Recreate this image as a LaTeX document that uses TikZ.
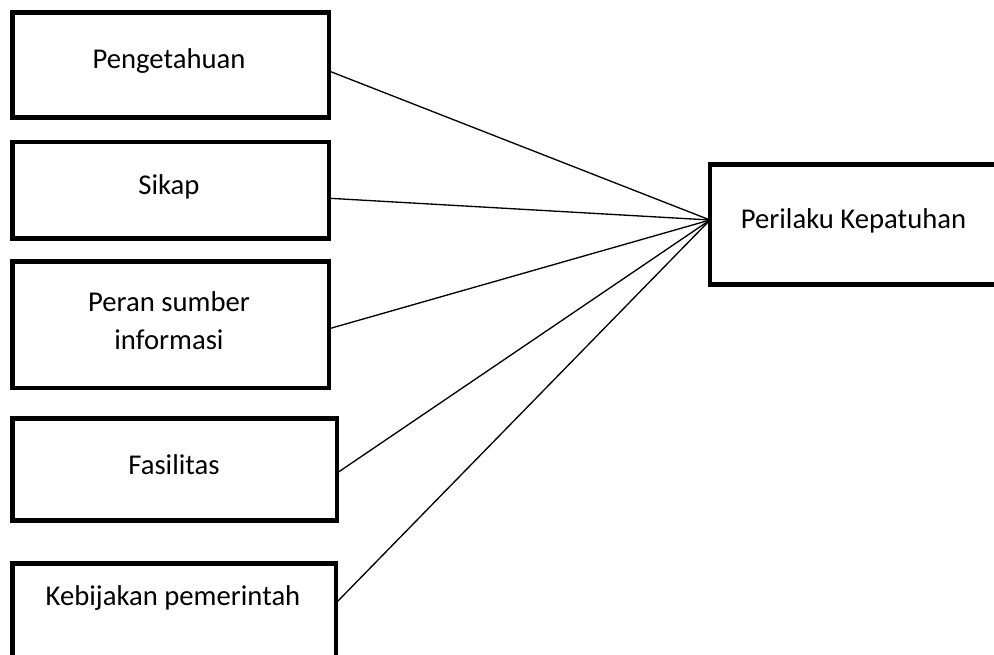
\documentclass[tikz,border=0pt]{standalone}
\usepackage{fontspec}
\setmainfont{Carlito}
\usetikzlibrary{calc}
\begin{document}
\begin{tikzpicture}[x=0.75pt,y=-0.75pt,
  box/.style={draw=black, line width=3.4pt, rectangle, inner sep=0pt, outer sep=0pt},
  lbl/.style={anchor=base, inner sep=0pt, font=\fontsize{21.5}{28.5}\selectfont, align=center},
  link/.style={draw=black, line width=1pt}]
\useasboundingbox (0,0) rectangle (994,654);
\clip (0,0) rectangle (994,654);
\fill[white] (0,0) rectangle (994,654);
% boxes (line-centre geometry)
\node[box, minimum width=316.5*0.75pt, minimum height=105*0.75pt] (b1) at (170.75,65) {};
\node[box, minimum width=316.5*0.75pt, minimum height=96.5*0.75pt] (b2) at (170.75,190.25) {};
\node[box, minimum width=316.5*0.75pt, minimum height=126.5*0.75pt] (b3) at (170.75,324.75) {};
\node[box, minimum width=324.5*0.75pt, minimum height=102*0.75pt] (b4) at (174.75,469.5) {};
\node[box, minimum width=323.5*0.75pt, minimum height=130*0.75pt] (b5) at (174.25,628.5) {};
\node[box, minimum width=320*0.75pt, minimum height=120*0.75pt] (k) at (870,224.5) {};
% texts
\node[lbl] (t1) at (169,68) {Pengetahuan};
\node[lbl] (t2) at (169,194) {Sikap};
\node[lbl] (t3) at (169,349) {Peran sumber\\informasi};
\node[lbl] (t4) at (174,474) {Fasilitas};
\node[lbl] (t5) at (173,605) {Kebijakan pemerintah};
\node[lbl] (tk) at (853.5,228) {Perilaku Kepatuhan};
% connectors
\coordinate (hub) at ($(k.west)+(0,-4.5)$);
\draw[link] ($(b1.east)+(0,6)$) -- (hub);
\draw[link] ($(b2.east)+(0,8)$) -- (hub);
\draw[link] ($(b3.east)+(0,4)$) -- (hub);
\draw[link] ($(b4.east)+(0,3.5)$) -- (hub);
\draw[link] ($(b5.east)+(0,-25.5)$) -- (hub);
\end{tikzpicture}
\end{document}
